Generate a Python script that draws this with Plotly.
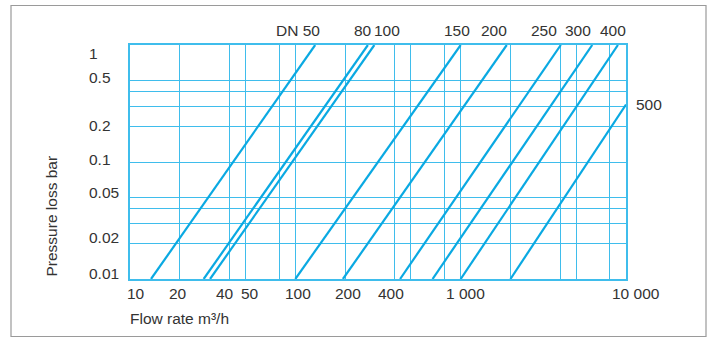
import math
import plotly.graph_objects as go

# ---- data ----
dn_labels = ["DN 50", "80", "100", "150", "200", "250", "300", "400", "500"]
flow_at_low = [13.4, 27.9, 30.5, 100, 194, 430, 676, 1000, 2000]        # m3/h at low-pressure end
flow_at_high = [131.8, 274.7, 300.5, 1000, 1900, 4035, 6250, 8940, 10000]  # m3/h at high-pressure end
pressure_low = [0.01, 0.01, 0.01, 0.01, 0.01, 0.01, 0.01, 0.01, 0.01]    # bar
pressure_high = [1, 1, 1, 1, 1, 1, 1, 1, 0.31]                           # bar

x_grid = [10, 20, 40, 50, 80, 100, 200, 400, 500, 800, 1000, 2000, 4000, 5000, 8000, 10000]
y_grid = [0.01, 0.02, 0.03, 0.04, 0.05, 0.1, 0.2, 0.3, 0.4, 0.5, 1]

x_tick_vals = [10, 20, 40, 50, 100, 200, 400, 1000, 10000]
x_tick_text = ["10", "20", "40", "50", "100", "200", "400", "1 000", "10 000"]
y_tick_vals = [1, 0.5, 0.2, 0.1, 0.05, 0.02, 0.01]
y_tick_text = ["1", "0.5", "0.2", "0.1", "0.05", "0.02", "0.01"]

# ---- styling / layout nudges (pixels) ----
x_label_shift = [6, -2, -4.5, 4.4, 2.2, 3, -4, 5.3, 10]
y_label_shift = [-8, 2.5, 1, 3, 5, 6, 6]
dn_label_shift = [-17, -5, 13, -3.7, -13, -16.5, -14, -5]

LINE = "#0aa9e2"
GRID = "#3fbdec"
TEXT = "#333333"
FONT = "Liberation Sans, Arial, sans-serif"
FS = 15.5

W, H = 711, 338
L, R, T, B = 130, 85, 45, 59
pw, ph = W - L - R, H - T - B

fig = go.Figure()
for i, name in enumerate(dn_labels):
    fig.add_trace(go.Scatter(
        x=[flow_at_low[i], flow_at_high[i]],
        y=[pressure_low[i], pressure_high[i]],
        mode="lines", line=dict(color=LINE, width=2.2),
        name=name, showlegend=False, hoverinfo="skip"))

font = dict(size=FS, color=TEXT, family=FONT)
ann = []
for v, t, s in zip(x_tick_vals, x_tick_text, x_label_shift):
    ann.append(dict(x=math.log10(v), xref="x", y=0, yref="paper", text=t,
                    showarrow=False, xanchor="center", yanchor="middle",
                    xshift=s, yshift=-14, font=font))
for v, t, s in zip(y_tick_vals, y_tick_text, y_label_shift):
    ann.append(dict(x=(87 - L) / pw, xref="paper", y=math.log10(v), yref="y", text=t,
                    showarrow=False, xanchor="left", yanchor="middle",
                    yshift=s, font=font))
for i, name in enumerate(dn_labels[:-1]):
    ann.append(dict(x=math.log10(flow_at_high[i]), xref="x", y=1, yref="paper", text=name,
                    showarrow=False, xanchor="center", yanchor="middle",
                    xshift=dn_label_shift[i], yshift=15, font=font))
ann.append(dict(x=math.log10(flow_at_high[-1]), xref="x", y=math.log10(pressure_high[-1]), yref="y",
                text=dn_labels[-1], showarrow=False, xanchor="left", yanchor="middle",
                xshift=8, font=font))
ann.append(dict(x=(128 - L) / pw, xref="paper", y=(H - B - 318) / ph, yref="paper",
                text="Flow rate m³/h", showarrow=False, xanchor="left", yanchor="middle",
                font=font))
ann.append(dict(x=(51 - L) / pw, xref="paper", y=0, yref="paper",
                text="Pressure loss bar", showarrow=False, textangle=-90,
                xanchor="center", yanchor="bottom", font=font))

fig.update_layout(
    width=W, height=H,
    margin=dict(l=L, r=R, t=T, b=B),
    paper_bgcolor="white", plot_bgcolor="white",
    annotations=ann,
    shapes=[dict(type="rect", xref="paper", yref="paper",
                 x0=(11 - L) / pw, x1=(706 - L) / pw,
                 y0=(H - B - 336.5) / ph, y1=(H - B - 5.5) / ph,
                 line=dict(color="#9a9a9a", width=1.2), fillcolor="rgba(0,0,0,0)", layer="below")],
    xaxis=dict(type="log", range=[1, 4], tickvals=x_grid, showticklabels=False,
               showgrid=True, gridcolor=GRID, gridwidth=1.4, ticks="",
               showline=True, linecolor=GRID, linewidth=1.5, mirror=True, zeroline=False),
    yaxis=dict(type="log", range=[-2, 0], tickvals=y_grid, showticklabels=False,
               showgrid=True, gridcolor=GRID, gridwidth=1.4, ticks="",
               showline=True, linecolor=GRID, linewidth=1.5, mirror=True, zeroline=False),
)

fig.write_html("out.html", config={"displayModeBar": False},
               post_script="document.body.style.margin='0';")
